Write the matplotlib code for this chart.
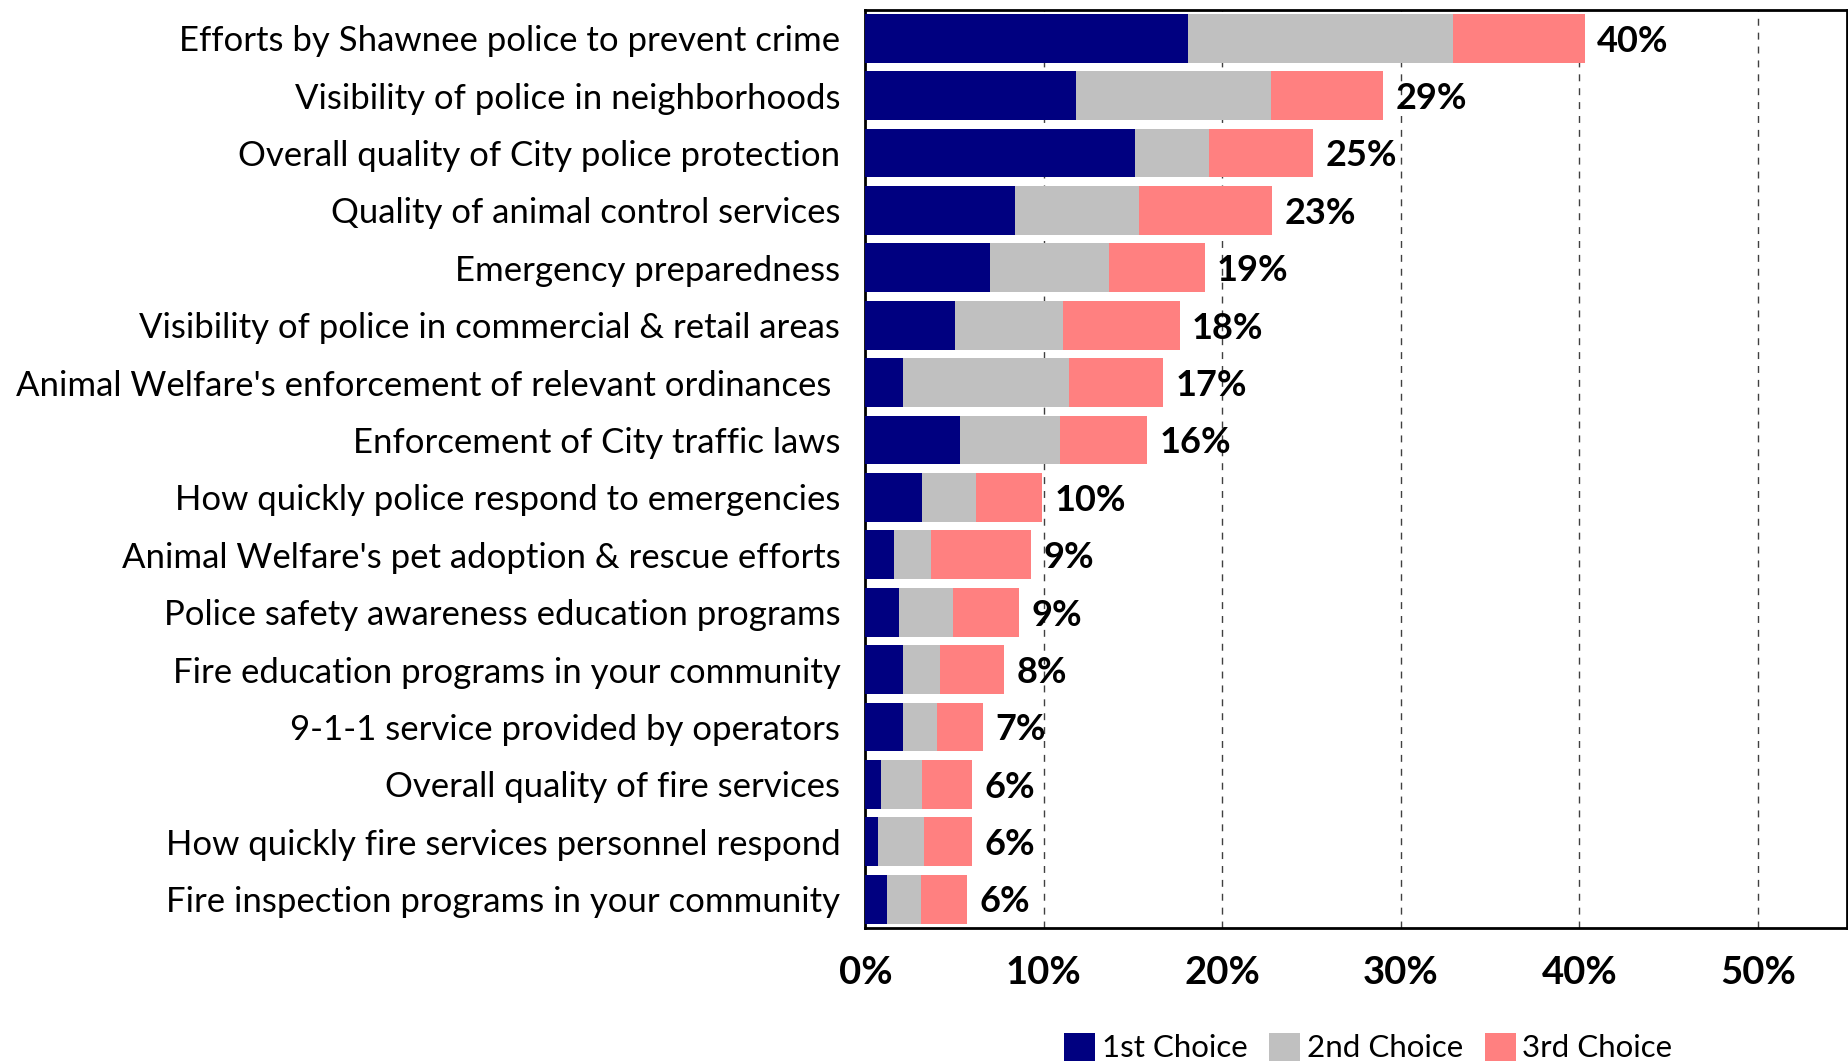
import numpy as np
import matplotlib.pyplot as plt
from matplotlib.ticker import FuncFormatter

plt.rcParams['font.family'] = ['Lato', 'DejaVu Sans']

categories = [
    "Efforts by Shawnee police to prevent crime",
    "Visibility of police in neighborhoods",
    "Overall quality of City police protection",
    "Quality of animal control services",
    "Emergency preparedness",
    "Visibility of police in commercial & retail areas",
    "Animal Welfare's enforcement of relevant ordinances ",
    "Enforcement of City traffic laws",
    "How quickly police respond to emergencies",
    "Animal Welfare's pet adoption & rescue efforts",
    "Police safety awareness education programs",
    "Fire education programs in your community",
    "9-1-1 service provided by operators",
    "Overall quality of fire services",
    "How quickly fire services personnel respond",
    "Fire inspection programs in your community",
]

first = [18.1, 11.8, 15.1, 8.4, 7.0, 5.05, 2.1, 5.3, 3.2, 1.6, 1.9, 2.1, 2.1, 0.85, 0.7, 1.2]
second = [14.8, 10.9, 4.15, 6.95, 6.65, 6.05, 9.3, 5.6, 3.0, 2.1, 3.0, 2.1, 1.9, 2.35, 2.6, 1.9]
third = [7.4, 6.3, 5.85, 7.45, 5.35, 6.5, 5.3, 4.9, 3.7, 5.6, 3.7, 3.55, 2.6, 2.8, 2.7, 2.6]

series = [("1st Choice", first, "#000080"),
          ("2nd Choice", second, "#C0C0C0"),
          ("3rd Choice", third, "#FF8080")]

fig = plt.figure(figsize=(18.49, 10.64), dpi=100)
ax = fig.add_axes([0.468, 0.128, 0.531, 0.863])

y = np.arange(len(categories))
left = np.zeros(len(categories))
for name, vals, col in series:
    vals = np.array(vals)
    ax.barh(y, vals, left=left, height=0.85, color=col, label=name, zorder=3)
    left = left + vals

# total labels at the end of each bar
for yi, tot in zip(y, left):
    ax.text(tot + 0.7, yi + 0.05, f"{tot:.0f}%", va='center', ha='left',
            fontsize=26, fontweight='bold', zorder=4)

ax.set_xlim(0, 55)
ax.set_ylim(len(categories) - 0.5, -0.5)
ax.set_xticks([0, 10, 20, 30, 40, 50])
ax.xaxis.set_major_formatter(FuncFormatter(lambda v, p: f"{v:.0f}%"))
ax.set_yticks(y)
ax.set_yticklabels(categories, fontsize=25)
for lab in ax.get_xticklabels():
    lab.set_fontweight('bold')
    lab.set_fontsize(27.5)
ax.tick_params(axis='both', length=0)
ax.tick_params(axis='x', pad=20)
ax.tick_params(axis='y', pad=18)

ax.grid(axis='x', linestyle=(0, (5, 5)), color='#404040', linewidth=1.0, zorder=0)
for sp in ax.spines.values():
    sp.set_linewidth(2)
    sp.set_color('black')

handles, labels = ax.get_legend_handles_labels()
fig.legend(handles, labels, loc='center', bbox_to_anchor=(0.74, 0.0155), ncol=3,
           frameon=False, fontsize=22.5, handlelength=1.0, handleheight=1.0,
           handletextpad=0.2, columnspacing=0.7, borderpad=0)

fig.savefig("out.png", dpi=100)
